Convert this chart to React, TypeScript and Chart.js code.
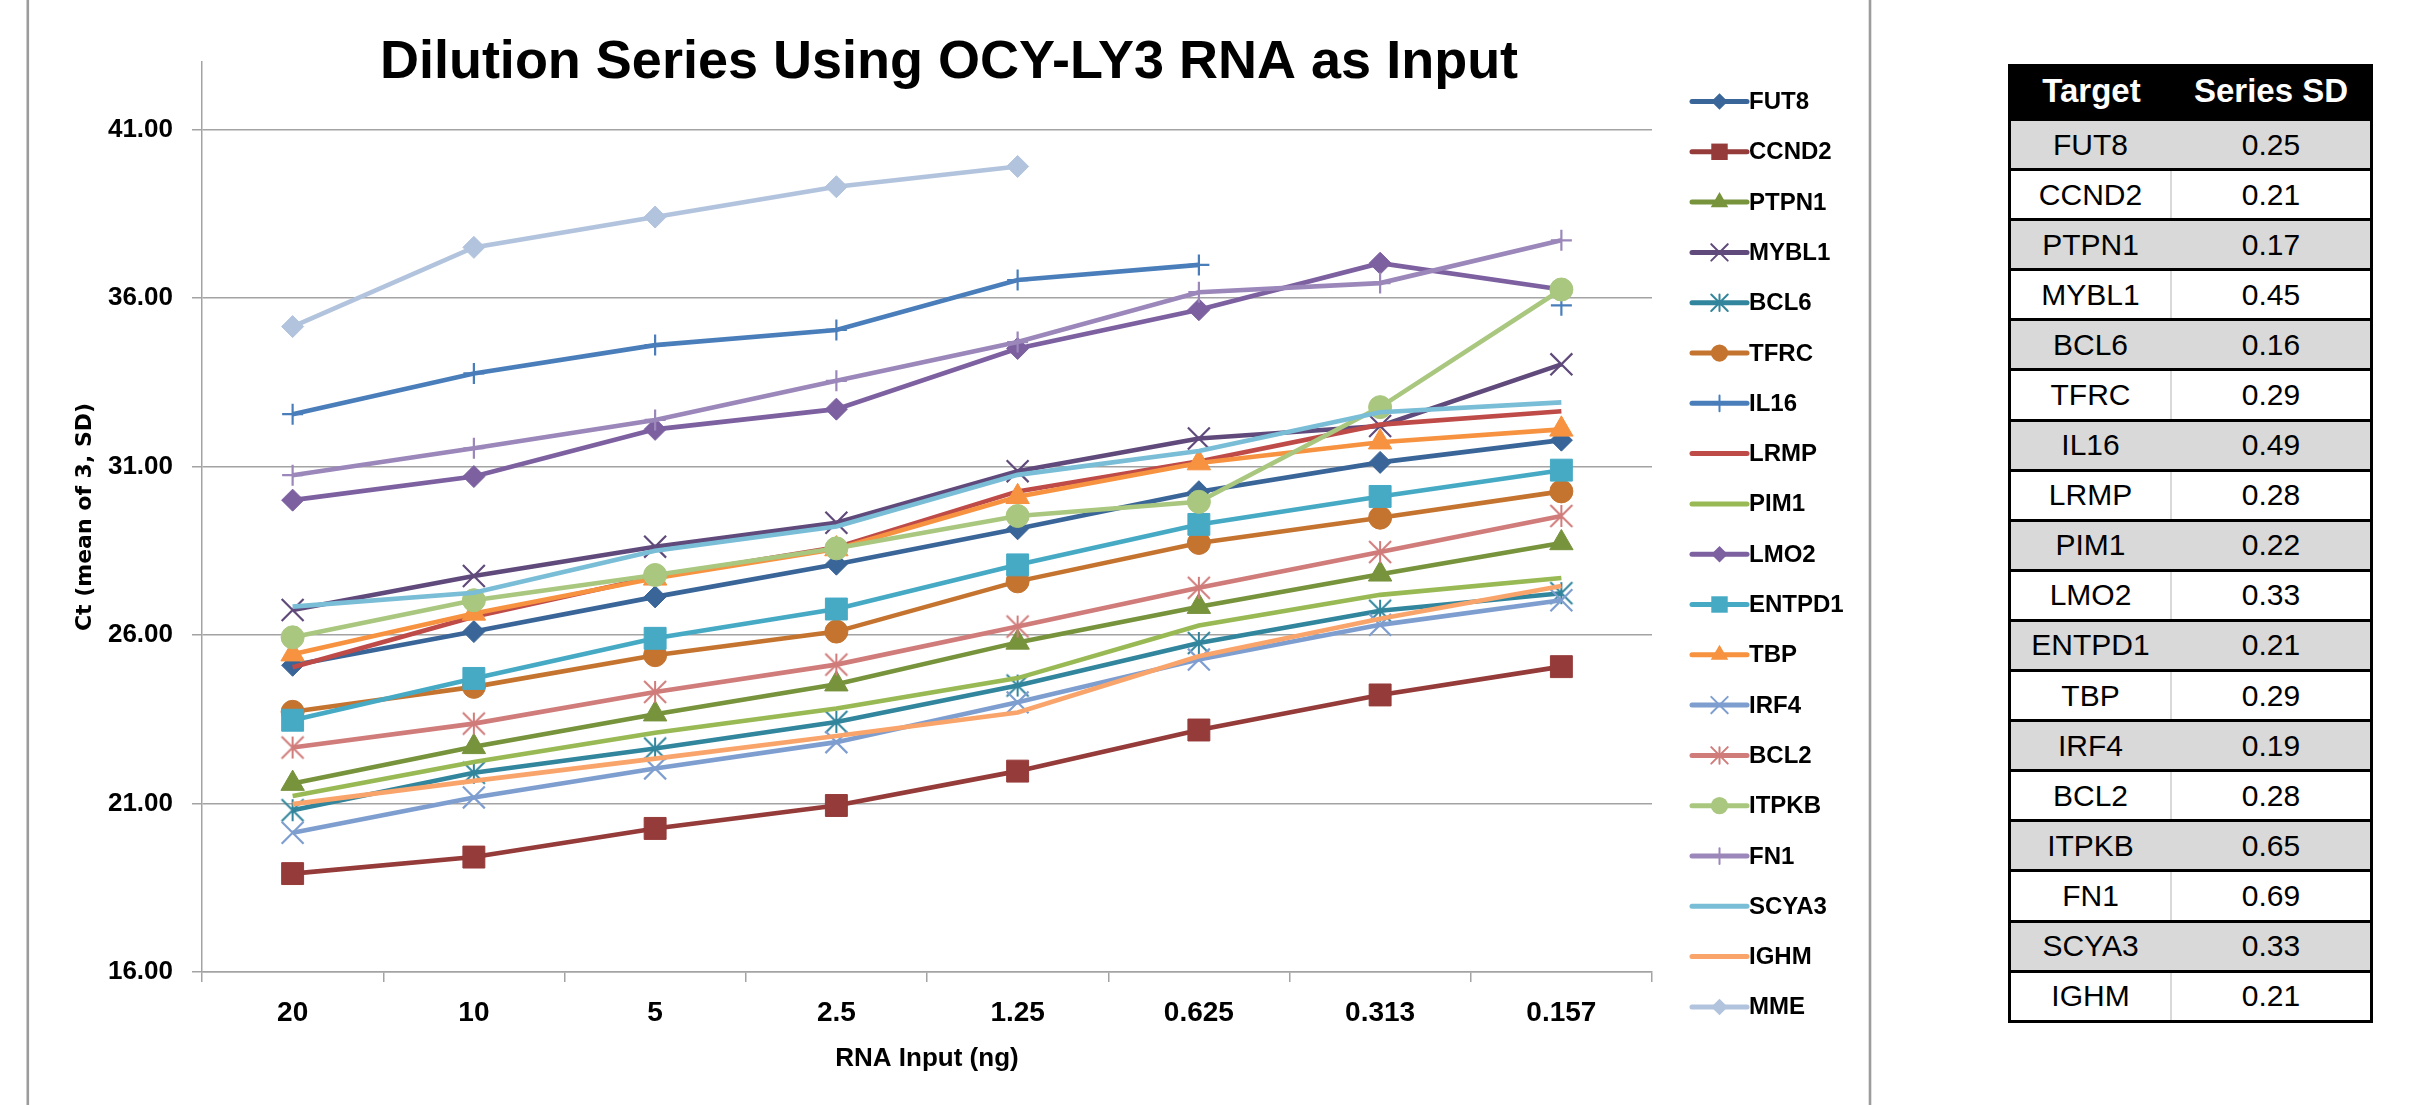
import React, { useEffect, useRef } from 'react';
import { Chart, registerables } from 'chart.js';

Chart.register(...registerables);

// ---------- data ----------
const CATEGORIES = ['20', '10', '5', '2.5', '1.25', '0.625', '0.313', '0.157'];
const Y_TICKS = [16, 21, 26, 31, 36, 41];
const Y_MIN = 16;
const Y_MAX = 43;

const FUT8 = [25.1, 26.1, 27.13, 28.1, 29.15, 30.25, 31.12, 31.78];
const CCND2 = [18.92, 19.41, 20.26, 20.94, 21.96, 23.18, 24.22, 25.06];
const PTPN1 = [21.59, 22.68, 23.65, 24.54, 25.78, 26.84, 27.8, 28.73];
const MYBL1 = [26.74, 27.75, 28.62, 29.33, 30.86, 31.83, 32.2, 34.03];
const BCL6 = [20.8, 21.91, 22.63, 23.42, 24.5, 25.76, 26.72, 27.24];
const TFRC = [23.72, 24.46, 25.4, 26.1, 27.59, 28.73, 29.48, 30.26];
const IL16 = [32.55, 33.76, 34.6, 35.05, 36.53, 36.98, null, 35.78];
const LRMP = [25.04, 26.54, 27.73, 28.6, 30.26, 31.15, 32.24, 32.64];
const PIM1 = [21.22, 22.23, 23.1, 23.82, 24.72, 26.28, 27.19, 27.69];
const LMO2 = [30.0, 30.7, 32.1, 32.7, 34.5, 35.65, 37.03, 36.25];
const ENTPD1 = [23.47, 24.71, 25.9, 26.77, 28.08, 29.28, 30.11, 30.89];
const TBP = [25.43, 26.64, 27.68, 28.55, 30.1, 31.1, 31.72, 32.1];
const IRF4 = [20.13, 21.18, 22.04, 22.82, 24.0, 25.27, 26.3, 27.03];
const BCL2 = [22.66, 23.37, 24.31, 25.12, 26.25, 27.4, 28.46, 29.53];
const ITPKB = [25.93, 27.03, 27.78, 28.57, 29.53, 29.95, 32.76, 36.25];
const FN1 = [30.74, 31.54, 32.38, 33.54, 34.69, 36.17, 36.44, 37.71];
const SCYA3 = [26.84, 27.25, 28.5, 29.22, 30.75, 31.46, 32.61, 32.9];
const IGHM = [20.98, 21.67, 22.33, 23.0, 23.7, 25.37, 26.48, 27.45];
const MME = [35.15, 37.5, 38.4, 39.3, 39.9, null, null, null];

const SERIES_NAMES = ['FUT8', 'CCND2', 'PTPN1', 'MYBL1', 'BCL6', 'TFRC', 'IL16', 'LRMP', 'PIM1', 'LMO2',
  'ENTPD1', 'TBP', 'IRF4', 'BCL2', 'ITPKB', 'FN1', 'SCYA3', 'IGHM', 'MME'];
const SERIES_VALUES = [FUT8, CCND2, PTPN1, MYBL1, BCL6, TFRC, IL16, LRMP, PIM1, LMO2,
  ENTPD1, TBP, IRF4, BCL2, ITPKB, FN1, SCYA3, IGHM, MME];
const SERIES_COLORS = ['#3A6598', '#953B39', '#77933C', '#604A7B', '#31859C', '#C57430', '#4A7EBB', '#BE4B48',
  '#98B954', '#7D60A0', '#46AAC5', '#F69240', '#7F9ED0', '#D07C7B', '#A9C77F', '#9B87BA', '#79BDD6', '#F9A46B', '#B2C3DD'];
const SERIES_MARKERS = ['rectRot', 'rect', 'triangle', 'crossRot', 'star', 'circle', 'cross', 'none', 'none', 'rectRot',
  'rect', 'triangle', 'crossRot', 'star', 'circle', 'cross', 'none', 'none', 'rectRot'];

const TABLE_TARGETS = ['FUT8', 'CCND2', 'PTPN1', 'MYBL1', 'BCL6', 'TFRC', 'IL16', 'LRMP', 'PIM1', 'LMO2',
  'ENTPD1', 'TBP', 'IRF4', 'BCL2', 'ITPKB', 'FN1', 'SCYA3', 'IGHM'];
const TABLE_SD = ['0.25', '0.21', '0.17', '0.45', '0.16', '0.29', '0.49', '0.28', '0.22', '0.33',
  '0.21', '0.29', '0.19', '0.28', '0.65', '0.69', '0.33', '0.21'];

const TITLE = 'Dilution Series Using OCY-LY3 RNA as Input';
const X_TITLE = 'RNA Input (ng)';
const Y_TITLE = 'Ct (mean of 3, SD)';

// ---------- styles ----------
const FONT = '"Liberation Sans", Arial, sans-serif';
const GRID = '#a3a3a3';
const MARKER_RADIUS: Record<string, number> = {
  rectRot: 11, rect: 15.5, triangle: 13.5, crossRot: 15.5, star: 11, circle: 11.5, cross: 10.5, none: 0,
};

function makeStar(color: string, half: number, lw: number) {
  const s = Math.ceil(2 * half + lw + 2);
  const c = document.createElement('canvas');
  c.width = s;
  c.height = s;
  const g = c.getContext('2d')!;
  g.strokeStyle = color;
  g.lineWidth = lw;
  const m = s / 2;
  g.beginPath();
  g.moveTo(m - half, m - half); g.lineTo(m + half, m + half);
  g.moveTo(m + half, m - half); g.lineTo(m - half, m + half);
  g.moveTo(m, m - half); g.lineTo(m, m + half);
  g.stroke();
  return c;
}

function drawMarker(ctx: CanvasRenderingContext2D, style: string, x: number, y: number, r: number, color: string) {
  ctx.save();
  ctx.fillStyle = color;
  ctx.strokeStyle = color;
  ctx.lineWidth = 2;
  ctx.beginPath();
  if (style === 'rectRot') {
    ctx.moveTo(x, y - r); ctx.lineTo(x + r, y); ctx.lineTo(x, y + r); ctx.lineTo(x - r, y); ctx.closePath(); ctx.fill();
  } else if (style === 'rect') {
    const h = r * Math.SQRT1_2; ctx.rect(x - h, y - h, 2 * h, 2 * h); ctx.fill();
  } else if (style === 'triangle') {
    for (let k = 0; k < 3; k++) {
      const a = k * 2 * Math.PI / 3;
      const px = x + Math.sin(a) * r, py = y - Math.cos(a) * r;
      if (k === 0) ctx.moveTo(px, py); else ctx.lineTo(px, py);
    }
    ctx.closePath(); ctx.fill();
  } else if (style === 'circle') {
    ctx.arc(x, y, r, 0, Math.PI * 2); ctx.fill();
  } else if (style === 'cross') {
    ctx.moveTo(x - r, y); ctx.lineTo(x + r, y); ctx.moveTo(x, y - r); ctx.lineTo(x, y + r); ctx.stroke();
  } else if (style === 'crossRot') {
    const d = r * Math.SQRT1_2;
    ctx.moveTo(x - d, y - d); ctx.lineTo(x + d, y + d); ctx.moveTo(x + d, y - d); ctx.lineTo(x - d, y + d); ctx.stroke();
  } else if (style === 'star') {
    ctx.moveTo(x - r, y - r); ctx.lineTo(x + r, y + r); ctx.moveTo(x + r, y - r); ctx.lineTo(x - r, y + r);
    ctx.moveTo(x, y - r); ctx.lineTo(x, y + r); ctx.stroke();
  }
  ctx.restore();
}

const framePlugin = {
  id: 'frame',
  beforeDraw(chart: any) {
    const { ctx, width, height } = chart;
    ctx.save();
    ctx.fillStyle = '#fff';
    ctx.fillRect(0, 0, width, height);
    ctx.fillStyle = '#9c9c9c';
    ctx.fillRect(26.5, 0, 2.6, height);
    ctx.fillRect(1868.7, 0, 2.6, height);
    ctx.restore();
  },
};

const titlePlugin = {
  id: 'excelTitle',
  afterDraw(chart: any) {
    const { ctx } = chart;
    ctx.save();
    ctx.fillStyle = '#000';
    ctx.font = `bold 54px ${FONT}`;
    ctx.textAlign = 'center';
    ctx.textBaseline = 'alphabetic';
    ctx.fillText(TITLE, 949, 78);
    ctx.restore();
  },
};

const legendPlugin = {
  id: 'excelLegend',
  afterDraw(chart: any) {
    const { ctx, chartArea } = chart;
    const x0 = chartArea.right + 40;
    const x1 = chartArea.right + 95;
    ctx.save();
    chart.data.datasets.forEach((ds: any, i: number) => {
      const y = chartArea.top + 39.5 + 50.3 * i;
      const color = SERIES_COLORS[i];
      ctx.strokeStyle = color;
      ctx.lineWidth = 5;
      ctx.lineCap = 'round';
      ctx.beginPath();
      ctx.moveTo(x0, y);
      ctx.lineTo(x1, y);
      ctx.stroke();
      const m = SERIES_MARKERS[i];
      if (m !== 'none') drawMarker(ctx, m, (x0 + x1) / 2, y, MARKER_RADIUS[m] * 0.75, color);
      ctx.fillStyle = '#000';
      ctx.font = `bold 24px ${FONT}`;
      ctx.textAlign = 'left';
      ctx.textBaseline = 'alphabetic';
      ctx.fillText(ds.label, x1 + 2, y + 7.5);
    });
    ctx.restore();
  },
};

function ChartView() {
  const ref = useRef<HTMLCanvasElement | null>(null);
  useEffect(() => {
    if (!ref.current) return;
    const datasets = SERIES_NAMES.map((name, i) => {
      const m = SERIES_MARKERS[i];
      const color = SERIES_COLORS[i];
      const style: any = m === 'star' ? makeStar(color, MARKER_RADIUS.star, 2) : (m === 'none' ? 'circle' : m);
      const stroked = m === 'cross' || m === 'crossRot' || m === 'star';
      return {
        label: name,
        data: SERIES_VALUES[i],
        borderColor: color,
        backgroundColor: color,
        borderWidth: 4.6,
        tension: 0,
        spanGaps: false,
        pointStyle: style,
        pointRadius: MARKER_RADIUS[m],
        pointHoverRadius: MARKER_RADIUS[m],
        pointBorderWidth: stroked ? 2.2 : 1,
        pointBackgroundColor: color,
        pointBorderColor: color,
        order: -i,
      };
    });
    const chart = new Chart(ref.current, {
      type: 'line',
      data: { labels: CATEGORIES, datasets },
      options: {
        responsive: false,
        animation: false,
        devicePixelRatio: 1,
        layout: { padding: { top: 62, right: 248, bottom: 0, left: 0 } },
        plugins: { legend: { display: false }, title: { display: false }, tooltip: { enabled: false } },
        scales: {
          x: {
            type: 'category',
            offset: true,
            afterFit: (s: any) => { s.height = 133; },
            grid: { offset: true, drawOnChartArea: false, drawTicks: true, tickLength: 10, color: GRID, lineWidth: 1.5 },
            border: { display: true, color: GRID, width: 1.5 },
            ticks: { color: '#000', font: { family: FONT, size: 28, weight: 'bold' }, padding: 14, maxRotation: 0 },
            title: {
              display: true, text: X_TITLE, color: '#000',
              font: { family: FONT, size: 26, weight: 'bold' }, padding: { top: 0, bottom: 30.4 },
            },
          },
          y: {
            type: 'linear',
            min: Y_MIN,
            max: Y_MAX,
            afterFit: (s: any) => { s.width = 202; },
            afterBuildTicks: (s: any) => { s.ticks = Y_TICKS.map((v) => ({ value: v })); },
            grid: { drawOnChartArea: true, drawTicks: true, tickLength: 10, color: GRID, lineWidth: 1.5 },
            border: { display: true, color: GRID, width: 1.5 },
            ticks: {
              color: '#000', font: { family: FONT, size: 26, weight: 'bold' }, padding: 19,
              callback: (v: any) => Number(v).toFixed(2),
            },
            title: {
              display: true, text: Y_TITLE, color: '#000',
              font: { family: '"DejaVu Sans", Verdana, sans-serif', size: 22, weight: 'bold' }, padding: { top: 72, bottom: 0 },
            },
          },
        },
      } as any,
      plugins: [framePlugin, titlePlugin, legendPlugin],
    });
    return () => chart.destroy();
  }, []);
  return <canvas ref={ref} width={1900} height={1105} style={{ position: 'absolute', left: 0, top: 0, width: 1900, height: 1105 }} />;
}

function SdTable() {
  const colA = 161;
  const colB = 198;
  const cell: React.CSSProperties = { display: 'flex', alignItems: 'center', justifyContent: 'center', height: '100%' };
  return (
    <div style={{ position: 'absolute', left: 2008, top: 64, width: colA + colB, fontFamily: FONT, color: '#000',
      borderLeft: '3px solid #000', borderRight: '3px solid #000', borderBottom: '3px solid #000', boxSizing: 'content-box' }}>
      <div style={{ display: 'flex', height: 54, background: '#000', color: '#fff', fontWeight: 'bold', fontSize: 33 }}>
        <div style={{ ...cell, width: colA }}>Target</div>
        <div style={{ ...cell, width: colB }}>Series SD</div>
      </div>
      {TABLE_TARGETS.map((t, i) => (
        <div key={t} style={{ display: 'flex', height: 50.1, boxSizing: 'border-box', borderTop: '3px solid #000',
          background: i % 2 === 0 ? '#d9d9d9' : '#fff', fontSize: 30 }}>
          <div style={{ ...cell, width: colA, boxSizing: 'border-box', borderRight: '2px solid #d9d9d9' }}>{t}</div>
          <div style={{ ...cell, width: colB }}>{TABLE_SD[i]}</div>
        </div>
      ))}
    </div>
  );
}

export default function App() {
  return (
    <div style={{ position: 'absolute', left: 0, top: 0, width: 2420, height: 1105, background: '#fff', overflow: 'hidden' }}>
      <ChartView />
      <SdTable />
    </div>
  );
}
